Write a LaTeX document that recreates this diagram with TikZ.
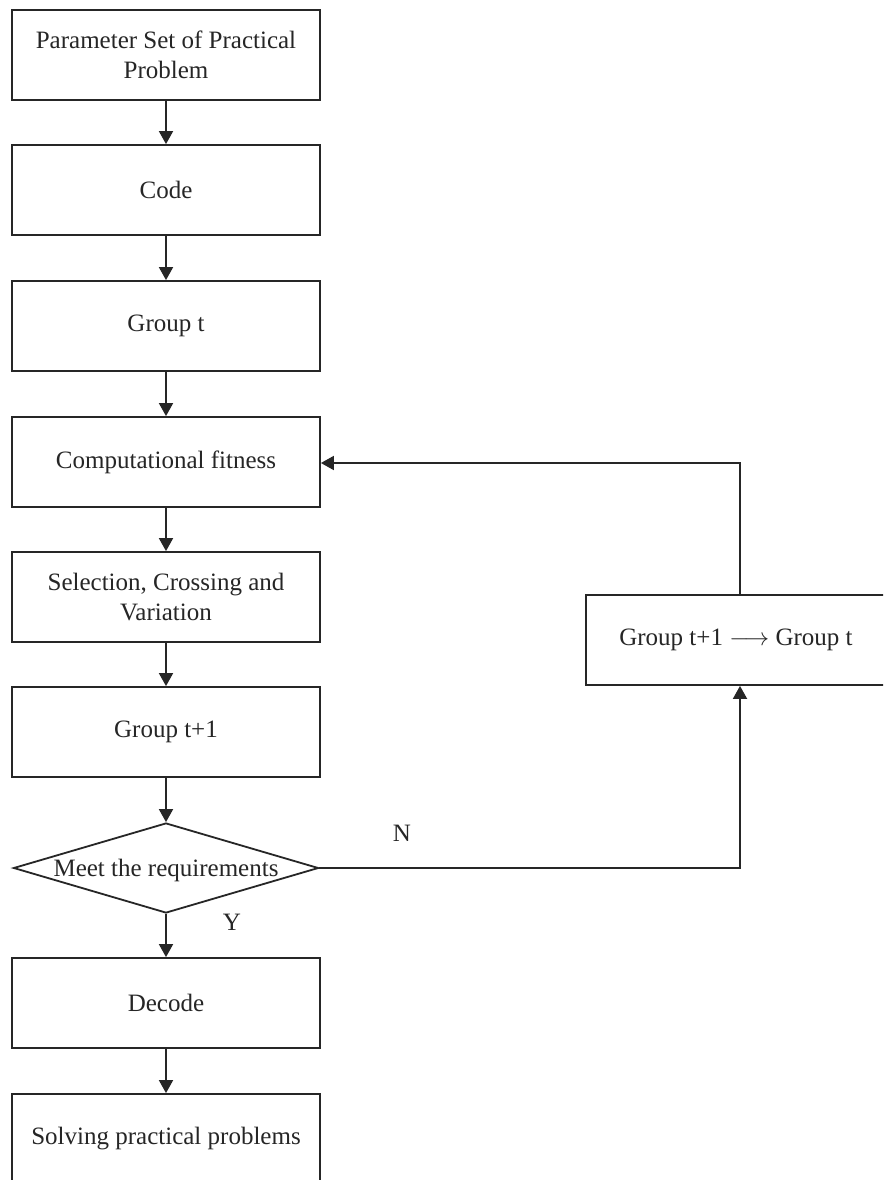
\documentclass[tikz,border=0pt]{standalone}
\usepackage{fontspec}
\setmainfont{Liberation Serif}
\usetikzlibrary{arrows.meta,shapes.geometric}
\begin{document}
\begin{tikzpicture}[x=1pt,y=-1pt,
  line width=1.8pt,
  every node/.style={font=\fontsize{25}{30}\selectfont, text=black!85},
  stepbox/.style={draw=black!85, minimum width=308pt, minimum height=90pt, inner sep=0pt, align=center},
  conn/.style={draw=black!85, -{Triangle[width=14pt,length=13pt]}}]
\clip (0,0) rectangle (883,1180);
\fill[white] (0,0) rectangle (883,1180);
\node[stepbox] (b1) at (166,55) {Parameter Set of Practical\\Problem};
\node[stepbox] (b2) at (166,190) {Code};
\node[stepbox] (b3) at (166,326) {Group t};
\node[stepbox] (b4) at (166,462) {Computational fitness};
\node[stepbox] (b5) at (166,597) {Selection, Crossing and\\Variation};
\node[stepbox] (b6) at (166,732) {Group t+1};
\node[draw=black!85, diamond, minimum width=305pt, minimum height=90pt, inner sep=0pt] (d) at (166,868) {};
\node (dt) at (166,870) {Meet the requirements};
\node[stepbox] (b7) at (166,1003) {Decode};
\node[stepbox] (b8) at (166,1139) {Solving practical problems};
\node[stepbox] (r) at (740,640) {};
\node (rt) at (736,640) {Group t+1 $\longrightarrow$ Group t};
\node (n) at (402,833) {N};
\node (y) at (232,922) {Y};
\coordinate (c1) at (740,868);
\coordinate (c2) at (740,463);
\draw[conn] (b1) -- (b2);
\draw[conn] (b2) -- (b3);
\draw[conn] (b3) -- (b4);
\draw[conn] (b4) -- (b5);
\draw[conn] (b5) -- (b6);
\draw[conn] (b6) -- (d.north);
\draw[conn] (d.south) -- (b7);
\draw[conn] (b7) -- (b8);
\draw[conn] (d.east) -- (c1) -- (r.south);
\draw[conn] (r.north) -- (c2) -- (b4.east |- c2);
\end{tikzpicture}
\end{document}
